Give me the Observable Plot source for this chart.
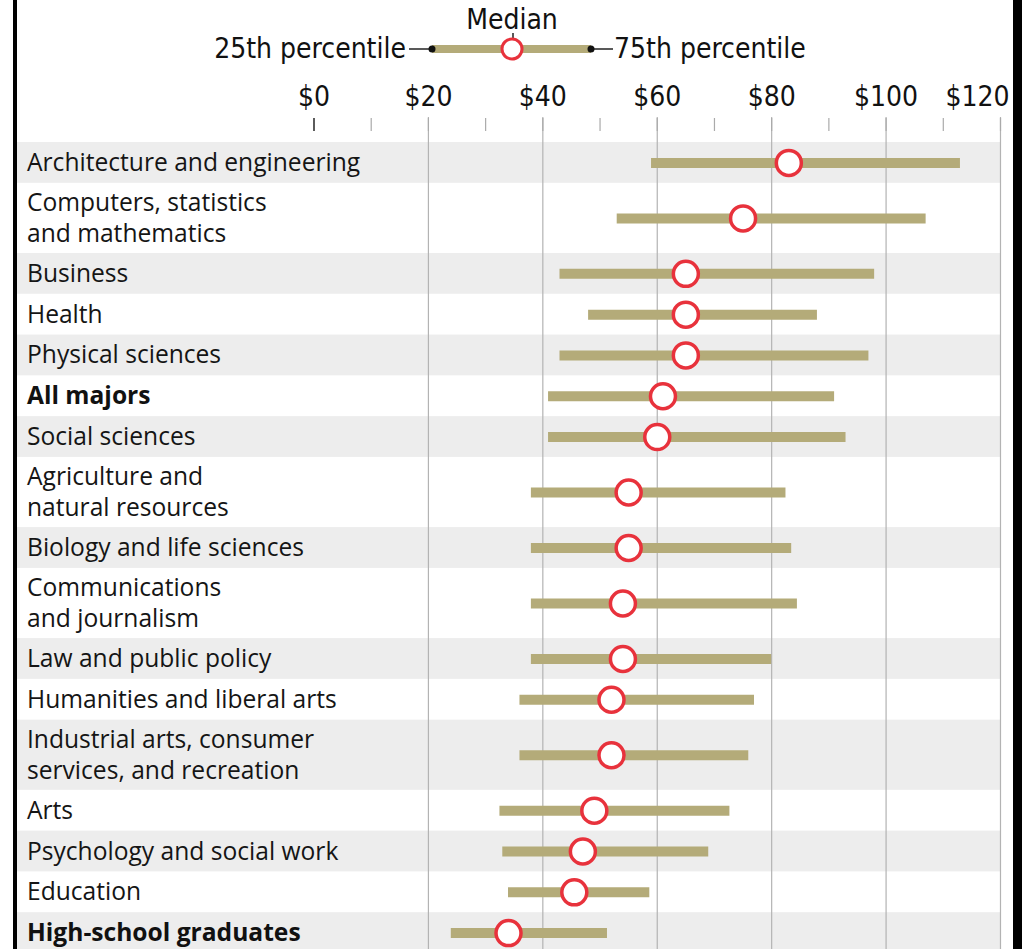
<!DOCTYPE html>
<html>
<head>
<meta charset="utf-8">
<script src="https://cdn.jsdelivr.net/npm/d3@7"></script>
<script src="https://cdn.jsdelivr.net/npm/@observablehq/plot@0.6"></script>
<style>
  html, body { margin: 0; padding: 0; background: #fff; }
  #wrap { position: relative; width: 1022px; height: 949px; overflow: hidden; background: #fff; }
  #borderL { position: absolute; left: 13px; top: 0; width: 4px; height: 949px; background: #000; z-index: 5; }
  #borderR { position: absolute; left: 1013px; top: 0; width: 9px; height: 949px; background: #000; z-index: 5; }
  #legend { height: 70px; }
  .cond { font-family: "Liberation Sans Narrow", "DejaVu Sans Condensed", "Arial Narrow", Lato, sans-serif; }
</style>
</head>
<body>
<div id="wrap">
  <div id="legend"></div>
  <div id="chart"></div>
  <div id="borderL"></div>
  <div id="borderR"></div>
</div>
<script>
// ---- data ----
const categories = [
  "Architecture and engineering",
  "Computers, statistics\nand mathematics",
  "Business",
  "Health",
  "Physical sciences",
  "All majors",
  "Social sciences",
  "Agriculture and\nnatural resources",
  "Biology and life sciences",
  "Communications\nand journalism",
  "Law and public policy",
  "Humanities and liberal arts",
  "Industrial arts, consumer\nservices, and recreation",
  "Arts",
  "Psychology and social work",
  "Education",
  "High-school graduates"
];
const p25 =    [59, 53, 43, 48, 43, 41, 41, 38, 38, 38, 38, 36, 36, 32.5, 33, 34, 24];
const median = [83, 75, 65, 65, 65, 61, 60, 55, 55, 54, 54, 52, 52, 49, 47, 45.5, 34];
const p75 =    [113, 107, 98, 88, 97, 91, 93, 82.5, 83.5, 84.5, 80, 77, 76, 72.7, 69, 58.7, 51.3];
const boldCategories = ["All majors", "High-school graduates"];
const majorTicks = [0, 20, 40, 60, 80, 100, 120];
const minorTicks = [0, 10, 20, 30, 40, 50, 60, 70, 80, 90, 100, 110, 120];

// ---- layout helpers (row heights from line counts) ----
let acc = 0;
const rows = categories.map((label, i) => {
  const lines = label.split("\n").length;
  const h = lines > 1 ? 1.72 : 1;
  const r = {label, p25: p25[i], median: median[i], p75: p75[i], y0: acc, y1: acc + h, mid: acc + h / 2, i,
             bold: boldCategories.includes(label)};
  acc += h;
  return r;
});
const total = acc;

const condFont = '"Liberation Sans Narrow", "DejaVu Sans Condensed", "Arial Narrow", Lato, sans-serif';
const labelFont = '"Open Sans", "Noto Sans", sans-serif';
const barColor = "#b4ab79";
const ringColor = "#e8323c";

// ---- legend ----
const lg = d3.select("#legend").append("svg").attr("width", 1022).attr("height", 70);
lg.append("text").attr("class", "cond").attr("x", 512).attr("y", 29).attr("text-anchor", "middle")
  .attr("font-size", 28).attr("fill", "#111").text("Median");
lg.append("line").attr("x1", 513).attr("x2", 513).attr("y1", 33).attr("y2", 39).attr("stroke", "#222").attr("stroke-width", 1.5);
lg.append("line").attr("x1", 409).attr("x2", 432).attr("y1", 49).attr("y2", 49).attr("stroke", "#222").attr("stroke-width", 1.5);
lg.append("line").attr("x1", 591).attr("x2", 613).attr("y1", 49).attr("y2", 49).attr("stroke", "#222").attr("stroke-width", 1.5);
lg.append("line").attr("x1", 432).attr("x2", 591).attr("y1", 49).attr("y2", 49).attr("stroke", barColor).attr("stroke-width", 8);
lg.append("circle").attr("cx", 432).attr("cy", 49).attr("r", 3.5).attr("fill", "#111");
lg.append("circle").attr("cx", 591).attr("cy", 49).attr("r", 3.5).attr("fill", "#111");
lg.append("circle").attr("cx", 512).attr("cy", 49).attr("r", 10).attr("fill", "#fff").attr("stroke", ringColor).attr("stroke-width", 3);
lg.append("text").attr("class", "cond").attr("x", 406).attr("y", 58).attr("text-anchor", "end")
  .attr("font-size", 28).attr("fill", "#111").text("25th percentile");
lg.append("text").attr("class", "cond").attr("x", 614).attr("y", 58).attr("text-anchor", "start")
  .attr("font-size", 28).attr("fill", "#111").text("75th percentile");

// ---- chart ----
const chart = Plot.plot({
  width: 1022,
  height: 879,
  marginLeft: 313.5,
  marginRight: 22,
  marginTop: 72,
  marginBottom: 0,
  x: {domain: [0, 120], axis: null},
  y: {domain: [0, total], range: [72, 883], axis: null},
  style: {fontFamily: labelFont, background: "transparent", overflow: "hidden"},
  marks: [
    Plot.rect(rows.filter(d => d.i % 2 === 0), {y1: "y0", y2: "y1", fill: "#ededed", insetLeft: -296.5}),
    Plot.ruleX(majorTicks.filter(d => d > 0), {x: d => d, stroke: "#b3b3b3", strokeWidth: 1.2, insetTop: -25}),
    Plot.axisX({anchor: "top", ticks: minorTicks.filter(d => d > 0), tickSize: 13, tickFormat: () => "", stroke: "#aaa", strokeWidth: 1.2, dy: -12}),
    Plot.axisX({anchor: "top", ticks: [0], tickSize: 13, tickFormat: () => "", stroke: "#333", strokeWidth: 1.6, dy: -12}),
    Plot.text(majorTicks.filter(d => d < 120), {x: d => d, text: d => "$" + d, frameAnchor: "top", dy: -45,
      lineAnchor: "middle", fontSize: 28, fontFamily: condFont, fill: "#111"}),
    Plot.text(majorTicks.filter(d => d === 120), {x: d => d, text: d => "$" + d, frameAnchor: "top", dy: -45,
      lineAnchor: "middle", textAnchor: "end", dx: 9, fontSize: 28, fontFamily: condFont, fill: "#111"}),
    Plot.ruleY(rows, {y: "mid", x1: "p25", x2: "p75", stroke: barColor, strokeWidth: 10}),
    Plot.dot(rows, {x: "median", y: "mid", r: 12.5, fill: "white", stroke: ringColor, strokeWidth: 3.5}),
    Plot.text(rows.filter(d => !d.bold), {y: "mid", text: "label", frameAnchor: "left", textAnchor: "start",
      dx: -287, dy: -2, fontSize: 24.6, lineHeight: 1.27, fill: "#151515"}),
    Plot.text(rows.filter(d => d.bold), {y: "mid", text: "label", frameAnchor: "left", textAnchor: "start",
      dx: -287, dy: -2, fontSize: 24.6, lineHeight: 1.27, fontWeight: "bold", fill: "#111"})
  ]
});
document.getElementById("chart").appendChild(chart);
</script>
</body>
</html>
